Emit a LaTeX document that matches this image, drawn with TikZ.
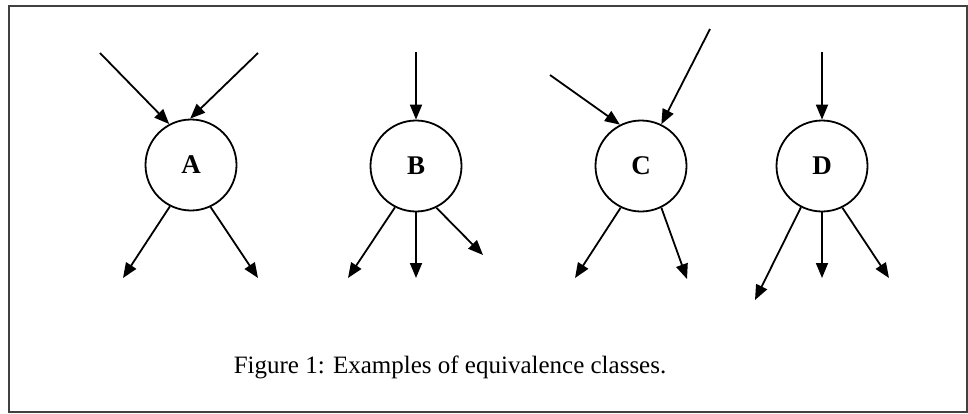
\documentclass[tikz,border=0pt]{standalone}
\usepackage{fontspec}
\setmainfont{Liberation Serif}
\usetikzlibrary{arrows.meta}
\begin{document}
\begin{tikzpicture}[x=1pt,y=-1pt,
  cls/.style={circle,draw,line width=1.8pt,minimum size=91pt,inner sep=0pt,font=\fontsize{27}{30}\selectfont\bfseries},
  arr/.style={line width=1.8pt,-{Triangle[length=15pt,width=12pt]}}]
\useasboundingbox (0,0) rectangle (968,413);
\draw[line width=1.8pt,black!75] (9,6) rectangle (967,412);
% nodes
\node[cls] (A) at (191,165) {A};
\node[cls] (B) at (416,166) {B};
\node[cls] (C) at (641,166) {C};
\node[cls] (D) at (822,166) {D};
% free ends
\coordinate (a1) at (100,53);
\coordinate (a2) at (258,53);
\coordinate (a3) at (123,278);
\coordinate (a4) at (258,278);
\coordinate (b1) at (416,52);
\coordinate (b2) at (348,278);
\coordinate (b3) at (416,278);
\coordinate (b4) at (483,255);
\coordinate (c1) at (550,75);
\coordinate (c2) at (710,29);
\coordinate (c3) at (575,278);
\coordinate (c4) at (687,279);
\coordinate (d1) at (822,52);
\coordinate (d2) at (755,300);
\coordinate (d3) at (822,278);
\coordinate (d4) at (889,278);
% A
\draw[arr] (a1) -- (A.118);
\draw[arr] (a2) -- (A.91);
\draw[arr] (A.243) -- (a3);
\draw[arr] (A.295) -- (a4);
% B
\draw[arr] (b1) -- (B.north);
\draw[arr] (B.243) -- (b2);
\draw[arr] (B.south) -- (b3);
\draw[arr] (B.296) -- (b4);
% C
\draw[arr] (c1) -- (C.117);
\draw[arr] (c2) -- (C.64);
\draw[arr] (C.244) -- (c3);
\draw[arr] (C.296) -- (c4);
% D
\draw[arr] (d1) -- (D.north);
\draw[arr] (D.243) -- (d2);
\draw[arr] (D.south) -- (d3);
\draw[arr] (D.296) -- (d4);
% caption
\node[font=\fontsize{25}{28}\selectfont,anchor=base] (cap) at (450,373) {Figure 1: Examples of equivalence classes.};
\end{tikzpicture}
\end{document}
